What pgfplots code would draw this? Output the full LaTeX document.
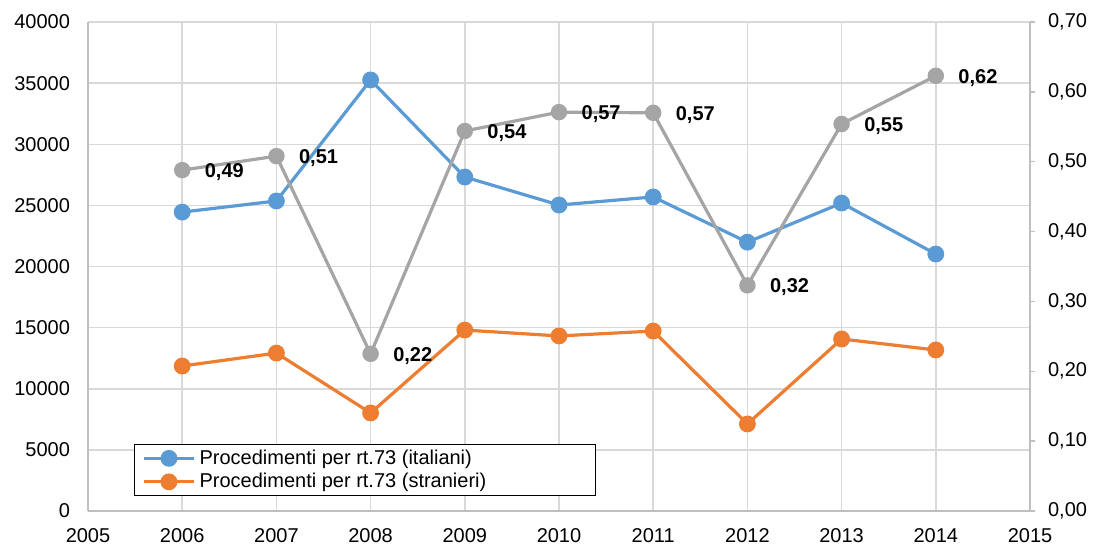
\documentclass[border=0pt]{standalone}
\usepackage{fontspec}
\setmainfont{Liberation Sans}
\usepackage{pgfplots}
\pgfplotsset{compat=1.18}
\definecolor{cblue}{HTML}{5B9BD5}
\definecolor{corange}{HTML}{ED7D31}
\definecolor{cgray}{HTML}{A5A5A5}
\definecolor{cgrid}{HTML}{D9D9D9}
\definecolor{caxis}{HTML}{BFBFBF}
\pgfplotstableread{
x ita str
2006 24450 11860
2007 25360 12920
2008 35260 8020
2009 27320 14800
2010 25030 14320
2011 25690 14720
2012 21990 7120
2013 25190 14070
2014 21020 13170
}\mainData
\pgfplotstableread{
x r lab
2006 0.488 0,49
2007 0.508 0,51
2008 0.225 0,22
2009 0.544 0,54
2010 0.571 0,57
2011 0.570 0,57
2012 0.323 0,32
2013 0.554 0,55
2014 0.623 0,62
}\ratioData
\begin{document}
\begin{tikzpicture}[font=\fontsize{10}{12}\selectfont]
\useasboundingbox (0,0) rectangle (548pt,273pt);
\begin{axis}[
  at={(44pt,17.5pt)}, anchor=south west,
  scale only axis, width=471pt, height=244.5pt,
  xmin=2005, xmax=2015, ymin=0, ymax=40000,
  xtick={2005,2006,2007,2008,2009,2010,2011,2012,2013,2014,2015},
  ytick={0,5000,10000,15000,20000,25000,30000,35000,40000},
  scaled y ticks=false, scaled x ticks=false,
  axis x line*=bottom, axis y line*=left,
  axis line style={caxis, line width=0.75pt, -},
  major tick length=0pt,
  grid=major, major grid style={cgrid, line width=0.75pt},
  /pgf/number format/1000 sep={},
  /pgf/number format/assume math mode=true,
  tick label style={font=\fontsize{10}{12}\selectfont, text=black},
  xticklabel style={yshift=-5pt},
  yticklabel style={xshift=-5.5pt},
  clip=false,
  legend cell align=left,
  legend style={at={(0.0488,0.0307)}, anchor=south west, draw=black, thin,
    font=\fontsize{10}{12}\selectfont, inner xsep=4pt, inner ysep=1pt,
    nodes={inner ysep=1.5pt}},
  legend image code/.code={\draw[mark repeat=2,mark phase=2,#1] plot coordinates {(0pt,0pt) (12.5pt,0pt) (25pt,0pt)};},
]
\addplot[cblue, line width=1.6pt, mark=*, mark size=3.4pt] table[x=x, y=ita] {\mainData};
\addlegendentry{\makebox[192pt][l]{Procedimenti per rt.73 (italiani)}}
\addplot[corange, line width=1.6pt, mark=*, mark size=3.4pt] table[x=x, y=str] {\mainData};
\addlegendentry{\makebox[192pt][l]{Procedimenti per rt.73 (stranieri)}}
\end{axis}
\begin{axis}[
  at={(44pt,17.5pt)}, anchor=south west,
  scale only axis, width=471pt, height=244.5pt,
  xmin=2005, xmax=2015, ymin=0, ymax=0.7,
  axis y line*=right, axis x line=none,
  ytick={0,0.1,0.2,0.3,0.4,0.5,0.6,0.7},
  scaled y ticks=false,
  /pgf/number format/fixed, /pgf/number format/fixed zerofill,
  /pgf/number format/precision=2, /pgf/number format/use comma,
  /pgf/number format/assume math mode=true,
  tick label style={font=\fontsize{10}{12}\selectfont, text=black},
  yticklabel style={xshift=3pt},
  tick align=outside, major tick length=2.5pt,
  tick style={caxis, line width=0.75pt},
  axis line style={caxis, line width=0.75pt, -},
  clip=false,
]
\addplot[cgray, line width=1.6pt, mark=*, mark size=3.3pt,
  point meta=explicit symbolic, nodes near coords,
  nodes near coords style={anchor=west, xshift=7.2pt, yshift=-1pt, text=black, font=\fontsize{10}{12}\selectfont\bfseries}]
  table[x=x, y=r, meta=lab] {\ratioData};
\end{axis}
\end{tikzpicture}
\end{document}
